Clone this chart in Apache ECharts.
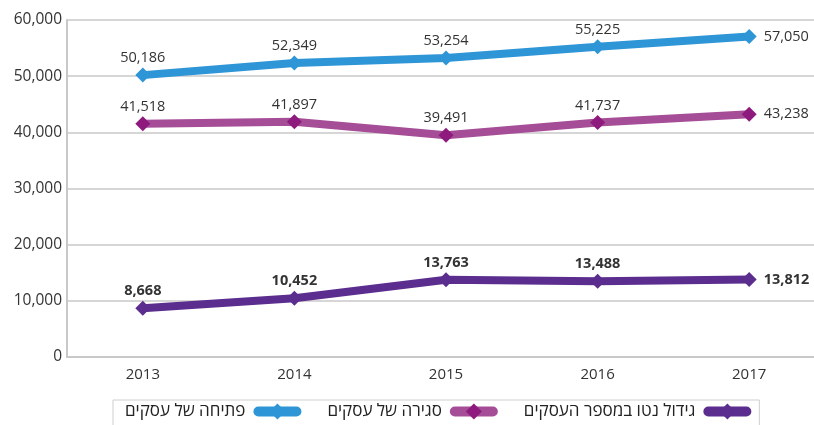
<!DOCTYPE html>
<html>
<head>
<meta charset="utf-8">
<script src="https://cdn.jsdelivr.net/npm/echarts@6/dist/echarts.min.js"></script>
<style>
  html, body { margin: 0; padding: 0; background: #fff; }
  #chart { width: 814px; height: 425px; }
</style>
</head>
<body>
<div id="chart"></div>
<script>
// נתונים
var years = ['2013', '2014', '2015', '2016', '2017'];
var openings = [50186, 52349, 53254, 55225, 57050];
var closings = [41518, 41897, 39491, 41737, 43238];
var netGrowth = [8668, 10452, 13763, 13488, 13812];
var seriesNames = ['פתיחה של עסקים', 'סגירה של עסקים', 'גידול נטו במספר העסקים'];

(function () {
    var myChart = echarts.init(document.getElementById('chart'));
    var font = '"Open Sans", "Noto Sans", sans-serif';

    function fmt(v) {
        return v.toLocaleString('en-US');
    }

    // labels above each point, last one to the right
    function labelData(arr, bold) {
        return arr.map(function (v, i) {
            var last = i === arr.length - 1;
            return {
                value: v,
                label: {
                    show: true,
                    position: last ? 'right' : 'top',
                    distance: last ? 7 : 2,
                    formatter: fmt(v),
                    color: '#333',
                    fontFamily: font,
                    fontSize: 14.5,
                    fontWeight: bold ? 'bold' : 'normal'
                }
            };
        });
    }

    function lineSeries(name, arr, lineColor, dotColor, bold) {
        return {
            name: name,
            type: 'line',
            data: labelData(arr, bold),
            symbol: 'diamond',
            symbolSize: 15,
            lineStyle: { width: 8, color: lineColor },
            itemStyle: { color: dotColor },
            emphasis: { disabled: true }
        };
    }

    var option = {
        animation: false,
        grid: {
            left: 67,
            right: -11,
            top: 20,
            bottom: 68,
            outerBoundsMode: 'none'
        },
        legend: {
            left: 113,
            top: 400,
            width: 700,
            itemWidth: 38,
            itemHeight: 20,
            itemGap: 26,
            align: 'right',
            padding: [3, 8, 12, 12],
            borderColor: '#cfcfcf',
            borderWidth: 1,
            lineStyle: { width: 10, cap: 'round' },
            textStyle: { fontFamily: font, fontSize: 17, color: '#222', padding: [0, 8, 0, 0] },
            data: seriesNames
        },
        xAxis: {
            type: 'category',
            data: years,
            boundaryGap: true,
            axisTick: { show: false },
            axisLine: { lineStyle: { color: '#c8c8c8', width: 2 } },
            axisLabel: { color: '#333', fontFamily: font, fontSize: 15, margin: 10 }
        },
        yAxis: {
            type: 'value',
            min: 0,
            max: 60000,
            interval: 10000,
            axisLine: { show: true, lineStyle: { color: '#c8c8c8', width: 2 } },
            axisTick: { show: false },
            splitLine: { lineStyle: { color: '#c8c8c8', width: 1.5 } },
            axisLabel: {
                color: '#333',
                fontFamily: font,
                fontSize: 15.5,
                margin: 5,
                formatter: function (v) { return fmt(v); }
            }
        },
        series: [
            lineSeries(seriesNames[0], openings, '#2e95d6', '#2e95d6', false),
            lineSeries(seriesNames[1], closings, '#a54d97', '#8e1a7d', false),
            lineSeries(seriesNames[2], netGrowth, '#5b2d8e', '#5b2d8e', true)
        ]
    };

    myChart.setOption(option);
    window.addEventListener('resize', function () {
        myChart.resize();
    });
})();
</script>
</body>
</html>
